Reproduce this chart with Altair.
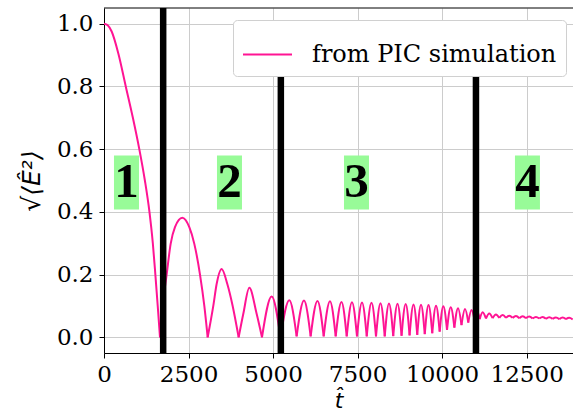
import altair as alt
import pandas as pd

# ---- field amplitude sqrt(<E^2>) from the PIC run -------------------------
# initial decay and the first large arches (t_hat, amplitude)
early_t = [0, 110, 227, 424, 644, 854, 1044, 1209, 1344, 1444, 1519, 1589, 1656,
           1745, 1853, 1971, 2099, 2316, 2523, 2671, 2839, 2967, 3066,
           3232, 3331, 3479, 3647, 3805, 3982,
           4120, 4297, 4514, 4672,
           4958, 5219]
early_e = [1.0, 0.995, 0.975, 0.905, 0.8, 0.7, 0.6, 0.5, 0.4, 0.3, 0.2, 0.1, 0.0,
           0.11, 0.2, 0.298, 0.351, 0.381, 0.351, 0.298, 0.2, 0.1, 0.0,
           0.1, 0.17, 0.218, 0.17, 0.1, 0.0,
           0.075, 0.158, 0.075, 0.0,
           0.130, 0.0]
# points where the amplitude bounces off its minimum in the early phase
early_cusps = [1656, 3066, 3982, 4672, 5219]

# later fast oscillation: maxima and minima
peak_t = [5480, 5914, 6313, 6683, 7023, 7334, 7630, 7911, 8177, 8428,
          8680, 8922, 9153, 9375, 9597, 9819, 10035, 10254, 10470, 10677,
          10869, 11040, 11198, 11393, 11591, 11790, 11985, 12183, 12381, 12576,
          12774, 12973, 13168, 13366, 13564, 13759]
peak_e = [0.118, 0.117, 0.116, 0.115, 0.113, 0.112, 0.111, 0.110, 0.109, 0.108,
          0.107, 0.106, 0.105, 0.104, 0.103, 0.101, 0.099, 0.096, 0.093, 0.090,
          0.087, 0.083, 0.080, 0.076, 0.073, 0.071, 0.069, 0.068, 0.067, 0.066,
          0.065, 0.065, 0.064, 0.063, 0.063, 0.062]
trough_t = [5697, 6111, 6497, 6852, 7178, 7482, 7770, 8044, 8302, 8554,
            8800, 9037, 9264, 9486, 9708, 9927, 10144, 10362, 10573, 10773,
            10960, 11110, 11296, 11492, 11690, 11887, 12084, 12282, 12479, 12675,
            12874, 13070, 13267, 13465, 13662, 13860]
trough_e = [0.003, 0.003, 0.003, 0.003, 0.003, 0.003, 0.003, 0.003, 0.003, 0.004,
            0.005, 0.006, 0.008, 0.010, 0.013, 0.018, 0.024, 0.031, 0.039, 0.047,
            0.054, 0.058, 0.060, 0.061, 0.062, 0.062, 0.062, 0.061, 0.061, 0.060,
            0.060, 0.059, 0.059, 0.058, 0.058, 0.057]

# phase boundaries (vertical bars: position and upper end) and phase labels
boundary_t = [1750, 5230, 11000]
boundary_top = [1.05, 0.877, 0.877]
phase_t = [665, 3711, 7467, 12523]
phase_e = [0.494, 0.494, 0.494, 0.494]
phase_txt = ["1", "2", "3", "4"]

Y_MIN, Y_MAX = -0.05, 1.05
SERIES = "from PIC simulation"
PINK = "#ff1493"

# split the curve into arches that meet at the minima, so each arch is
# smoothed on its own and the minima stay sharp
points = list(zip(early_t, early_e)) + sorted(
    zip(peak_t + trough_t, peak_e + trough_e))
cusps = set(early_cusps) | set(trough_t)
rows, arch = [], 0
for t, e in points:
    rows.append({"t": t, "e": e, "arch": arch, "series": SERIES})
    if t in cusps:
        arch += 1
        rows.append({"t": t, "e": e, "arch": arch, "series": SERIES})
curve_df = pd.DataFrame(rows)

bound_df = pd.DataFrame({"t": boundary_t, "top": boundary_top,
                         "bottom": [Y_MIN] * len(boundary_t)})
phase_df = pd.DataFrame({"t": phase_t, "e": phase_e, "label": phase_txt})

W, H = 469, 345
x_scale = alt.Scale(domain=[0, 13870], nice=False, zero=False)
y_scale = alt.Scale(domain=[Y_MIN, Y_MAX], nice=False, zero=False)
x_axis = alt.Axis(values=[0, 2500, 5000, 7500, 10000, 12500], format="d",
                  title="t\u0302", titleFont="DejaVu Sans", titleFontSize=22,
                  titleFontStyle="italic", titleFontWeight="normal",
                  titlePadding=4, labelPadding=5, labelFlush=False,
                  labelOverlap=False)
y_axis = alt.Axis(values=[0.0, 0.2, 0.4, 0.6, 0.8, 1.0], format=".1f",
                  title="\u221a\u27e8E\u0302\u00b2\u27e9",
                  titleFont="DejaVu Sans", titleFontSize=25,
                  titleFontStyle="italic", titleFontWeight="normal",
                  titlePadding=12, labelPadding=6, labelFlush=False,
                  labelOverlap=False)

curve = alt.Chart(curve_df).mark_line(
    strokeWidth=2, interpolate="monotone", clip=True
).encode(
    x=alt.X("t:Q", scale=x_scale, axis=x_axis),
    y=alt.Y("e:Q", scale=y_scale, axis=y_axis),
    detail="arch:N",
    order="t:Q",
    color=alt.Color(
        "series:N",
        scale=alt.Scale(range=[PINK]),
        legend=alt.Legend(
            title=None, orient="none", legendX=129, legendY=12,
            symbolType="stroke", symbolSize=2400, symbolStrokeWidth=2,
            labelFont="DejaVu Serif", labelFontSize=24, labelColor="black",
            labelLimit=0, labelOffset=19, padding=9, strokeColor="#d0d0d0",
            fillColor="white", cornerRadius=4,
        ),
    ),
)

bounds = alt.Chart(bound_df).mark_rule(color="black", strokeWidth=6.5).encode(
    x=alt.X("t:Q", scale=x_scale, axis=x_axis),
    y=alt.Y("top:Q", scale=y_scale, axis=y_axis),
    y2="bottom:Q",
)

boxes = alt.Chart(phase_df).mark_rect(
    color="#98fb98", width=25, height=54
).encode(
    x=alt.X("t:Q", scale=x_scale, axis=x_axis),
    y=alt.Y("e:Q", scale=y_scale, axis=y_axis),
)

labels = alt.Chart(phase_df).mark_text(
    font="Liberation Serif", fontSize=49, fontWeight="bold", color="black",
    align="center", baseline="middle"
).encode(
    x=alt.X("t:Q", scale=x_scale, axis=x_axis),
    y=alt.Y("e:Q", scale=y_scale, axis=y_axis),
    text="label:N",
)

top_spine = alt.Chart(alt.Data(values=[{}])).mark_rule(
    color="black", strokeWidth=1
).encode(x=alt.value(0), x2=alt.value(W), y=alt.value(0))

chart = alt.layer(curve, bounds, boxes, labels, top_spine).properties(
    width=W, height=H,
    autosize=alt.AutoSizeParams(type="none"),
    padding={"left": 104, "top": 8, "right": 0, "bottom": 59},
).configure_view(stroke=None).configure_axis(
    domainColor="black", domainWidth=1, tickColor="black", tickSize=5,
    tickWidth=1, gridColor="#cccccc", gridWidth=1, labelFont="DejaVu Serif",
    labelFontSize=23, labelColor="black", titleColor="black",
)

chart.save("out.html", embed_options={"renderer": "svg", "actions": False})
